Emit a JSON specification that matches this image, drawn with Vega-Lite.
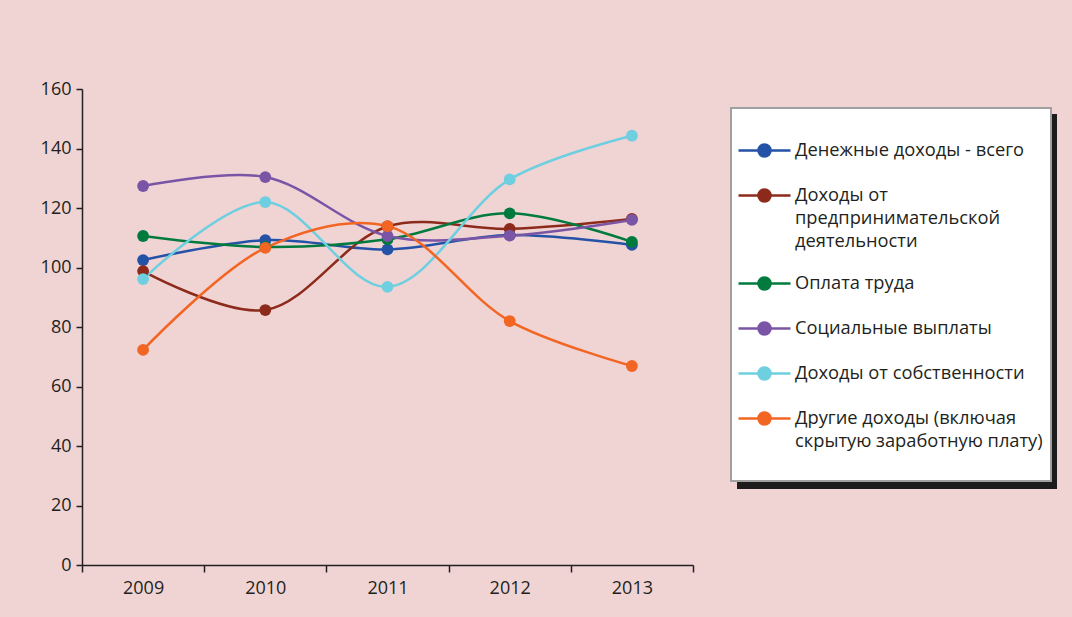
{
  "$schema": "https://vega.github.io/schema/vega-lite/v6.json",
  "width": 611,
  "height": 476,
  "autosize": {"type": "none"},
  "padding": {"left": 82, "top": 89, "right": 379, "bottom": 52},
  "background": "#f0d4d4",
  "config": {"view": {"stroke": null}, "font": "Open Sans"},
  "data": {
    "values": [
      {"year": "2009", "series": "Денежные доходы - всего", "value": 102.5},
      {"year": "2010", "series": "Денежные доходы - всего", "value": 109.2},
      {"year": "2011", "series": "Денежные доходы - всего", "value": 106.1},
      {"year": "2012", "series": "Денежные доходы - всего", "value": 110.9},
      {"year": "2013", "series": "Денежные доходы - всего", "value": 107.6},
      {"year": "2009", "series": "Доходы от предпринимательской деятельности", "value": 98.8},
      {"year": "2010", "series": "Доходы от предпринимательской деятельности", "value": 85.7},
      {"year": "2011", "series": "Доходы от предпринимательской деятельности", "value": 113.8},
      {"year": "2012", "series": "Доходы от предпринимательской деятельности", "value": 113.0},
      {"year": "2013", "series": "Доходы от предпринимательской деятельности", "value": 116.3},
      {"year": "2009", "series": "Оплата труда", "value": 110.6},
      {"year": "2010", "series": "Оплата труда", "value": 106.9},
      {"year": "2011", "series": "Оплата труда", "value": 109.5},
      {"year": "2012", "series": "Оплата труда", "value": 118.2},
      {"year": "2013", "series": "Оплата труда", "value": 108.6},
      {"year": "2009", "series": "Социальные выплаты", "value": 127.4},
      {"year": "2010", "series": "Социальные выплаты", "value": 130.4},
      {"year": "2011", "series": "Социальные выплаты", "value": 110.6},
      {"year": "2012", "series": "Социальные выплаты", "value": 110.7},
      {"year": "2013", "series": "Социальные выплаты", "value": 116.0},
      {"year": "2009", "series": "Доходы от собственности", "value": 96.1},
      {"year": "2010", "series": "Доходы от собственности", "value": 122.0},
      {"year": "2011", "series": "Доходы от собственности", "value": 93.5},
      {"year": "2012", "series": "Доходы от собственности", "value": 129.6},
      {"year": "2013", "series": "Доходы от собственности", "value": 144.3},
      {"year": "2009", "series": "Другие доходы (включая скрытую заработную плату)", "value": 72.3},
      {"year": "2010", "series": "Другие доходы (включая скрытую заработную плату)", "value": 106.6},
      {"year": "2011", "series": "Другие доходы (включая скрытую заработную плату)", "value": 113.9},
      {"year": "2012", "series": "Другие доходы (включая скрытую заработную плату)", "value": 82.0},
      {"year": "2013", "series": "Другие доходы (включая скрытую заработную плату)", "value": 66.9}
    ]
  },
  "layer": [
    {
      "mark": {"type": "line", "interpolate": "catmull-rom", "strokeWidth": 2.5},
      "encoding": {
        "x": {
          "field": "year", "type": "ordinal", "bandPosition": 0.5,
          "scale": {"type": "band", "paddingInner": 0, "paddingOuter": 0},
          "axis": {
            "title": null, "labelAngle": 0, "tickBand": "extent", "grid": false,
            "domainColor": "#231f20", "tickColor": "#231f20", "domainWidth": 1.5, "tickWidth": 1.5,
            "tickSize": 7, "labelFontSize": 18, "labelColor": "#231f20", "labelPadding": 7, "labelFont": "Open Sans"
          }
        },
        "y": {
          "field": "value", "type": "quantitative",
          "scale": {"domain": [0, 160], "nice": false},
          "axis": {
            "title": null, "values": [0, 20, 40, 60, 80, 100, 120, 140, 160], "grid": false,
            "domainColor": "#231f20", "tickColor": "#231f20", "domainWidth": 1.5, "tickWidth": 1.5,
            "tickSize": 6, "labelFontSize": 18, "labelColor": "#231f20", "labelPadding": 5, "labelFont": "Open Sans"
          }
        },
        "color": {
          "field": "series", "type": "nominal",
          "scale": {
            "domain": ["Денежные доходы - всего", "Доходы от предпринимательской деятельности", "Оплата труда", "Социальные выплаты", "Доходы от собственности", "Другие доходы (включая скрытую заработную плату)"],
            "range": ["#2452a6", "#8c2a1b", "#007a3d", "#7a55a6", "#6dcfe0", "#f26522"]
          },
          "legend": {
            "orient": "none", "legendX": 649, "legendY": 19, "zindex": 2,
            "title": " ", "titleFontSize": 16, "titlePadding": 7,
            "fillColor": "#ffffff", "strokeColor": "#a0a0a0", "padding": 8,
            "symbolType": "M-2.6,0L2.6,0M0.6,0C0.6,0.331,0.331,0.6,0,0.6C-0.331,0.6,-0.6,0.331,-0.6,0C-0.6,-0.331,-0.331,-0.6,0,-0.6C0.331,-0.6,0.6,-0.331,0.6,0Z",
            "symbolSize": 400, "symbolStrokeWidth": 2.5, "symbolOffset": 14,
            "labelFont": "Open Sans", "labelFontSize": 18.3, "labelColor": "#231f20", "labelLimit": 0,
            "labelOffset": 19, "labelBaseline": "middle", "rowPadding": 22,
            "labelExpr": "datum.label == 'Доходы от предпринимательской деятельности' ? ['Доходы от', 'предпринимательской', 'деятельности'] : datum.label == 'Другие доходы (включая скрытую заработную плату)' ? ['Другие доходы (включая', 'скрытую заработную плату)', ''] : datum.label",
            "encode": {
              "labels": {"update": {"lineHeight": {"value": 23}}},
              "symbols": {"update": {"fill": {"scale": "color", "field": "value"}, "stroke": {"scale": "color", "field": "value"}, "opacity": {"value": 1}}},
              "legend": {"update": {"strokeWidth": {"value": 2}}}
            }
          }
        },
        "opacity": {
          "field": "series", "type": "nominal",
          "scale": {
            "domain": ["Другие доходы (включая скрытую заработную плату)", "Доходы от собственности", "Социальные выплаты", "Оплата труда", "Доходы от предпринимательской деятельности", "Денежные доходы - всего"],
            "range": [1, 1, 1, 1, 1, 1]
          },
          "legend": {
            "orient": "none", "legendX": 656, "legendY": 26, "zindex": 1,
            "title": " ", "titleFontSize": 16, "titlePadding": 7, "titleColor": "#1c1c1c",
            "fillColor": "#1c1c1c", "strokeColor": "#1c1c1c", "padding": 8,
            "symbolType": "M-2.6,0L2.6,0M0.6,0C0.6,0.331,0.331,0.6,0,0.6C-0.331,0.6,-0.6,0.331,-0.6,0C-0.6,-0.331,-0.331,-0.6,0,-0.6C0.331,-0.6,0.6,-0.331,0.6,0Z",
            "symbolSize": 400, "symbolStrokeWidth": 2.5, "symbolOffset": 14, "symbolOpacity": 0,
            "labelFont": "Open Sans", "labelFontSize": 18.3, "labelColor": "#1c1c1c", "labelLimit": 0,
            "labelOffset": 265, "labelBaseline": "middle", "rowPadding": 22,
            "labelExpr": "datum.label == 'Доходы от предпринимательской деятельности' ? [' ', ' ', ' '] : datum.label == 'Другие доходы (включая скрытую заработную плату)' ? [' ', ' ', ' '] : ' '",
            "encode": {
              "labels": {"update": {"lineHeight": {"value": 23}}},
              "legend": {"update": {"strokeWidth": {"value": 2}}}
            }
          }
        }
      }
    },
    {
      "mark": {"type": "point", "filled": true, "size": 140, "opacity": 1},
      "encoding": {
        "x": {"field": "year", "type": "ordinal", "bandPosition": 0.5},
        "y": {"field": "value", "type": "quantitative"},
        "color": {"field": "series", "type": "nominal"}
      }
    }
  ]
}
